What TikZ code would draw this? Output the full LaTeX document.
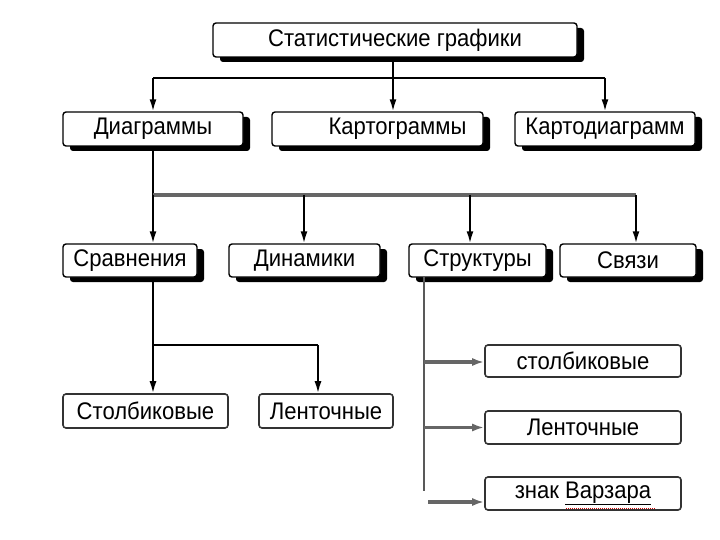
\documentclass[tikz,border=0pt]{standalone}
\usepackage{fontspec}
\setmainfont{Liberation Sans}[FakeStretch=0.92]
\usetikzlibrary{shadows,arrows.meta}
\begin{document}
\begin{tikzpicture}[x=1pt,y=-1pt,
  box/.style={draw=black,line width=1.4pt,fill=white,rounded corners=3pt,inner sep=0pt,
    font=\fontsize{24}{26}\selectfont},
  sbox/.style={box,general shadow={shadow xshift=7pt,shadow yshift=-5pt,fill=black}},
  pbox/.style={box,draw=black!80,line width=1.6pt},
  blk/.style={draw=black,line width=1.8pt},
  gry/.style={draw=black!60,line width=3.2pt},
  tip/.style={-{Latex[length=12pt,width=7pt]}},
  gtip/.style={-{Latex[length=12pt,width=8pt,fill=black]}}
]
\useasboundingbox (0,0) rectangle (720,540);
\fill[white] (0,0) rectangle (720,540);

% nodes
\node[sbox,minimum width=364pt,minimum height=34pt] (top) at (395,40) {Статистические графики};
\node[sbox,minimum width=180pt,minimum height=34pt] (diag) at (153,129) {Диаграммы};
\node[sbox,minimum width=211pt,minimum height=34pt,
  label={[font=\fontsize{24}{26}\selectfont,xshift=20pt]center:Картограммы}] (kart) at (377.5,129) {};
\node[sbox,minimum width=180pt,minimum height=34pt] (kd) at (605,129) {Картодиаграмм};

\node[sbox,minimum width=134pt,minimum height=33pt] (srav) at (130,260.5) {Сравнения};
\node[sbox,minimum width=151pt,minimum height=33pt] (din) at (304.5,260.5) {Динамики};
\node[sbox,minimum width=137pt,minimum height=33pt] (str) at (477.5,260.5) {Структуры};
\node[sbox,minimum width=136pt,minimum height=33pt] (sv) at (628,260.5) {Связи};

\node[pbox,minimum width=165pt,minimum height=34pt] (stl) at (145.5,411) {Столбиковые};
\node[pbox,minimum width=134pt,minimum height=34pt] (lnl) at (326,411) {Ленточные};

\node[pbox,minimum width=196pt,minimum height=32pt] (r1) at (583,361) {столбиковые};
\node[pbox,minimum width=196pt,minimum height=33pt] (r2) at (583,427.5) {Ленточные};
\node[pbox,minimum width=196pt,minimum height=33pt] (r3) at (583,493.5) {знак \underline{Варзара}};
\draw[red!80!black,densely dotted,line width=1pt] (566,508.5) -- (655,508.5);

% coordinates
\coordinate (h1) at (393,78);
\coordinate (h1l) at (153,78);
\coordinate (h1r) at (605,78);
\coordinate (h2l) at (153,195);
\coordinate (h2r) at (636,195);
\coordinate (h3l) at (153,345);
\coordinate (h3r) at (318,345);
\coordinate (vs) at (424,277);
\coordinate (ve) at (424,491);

% level 1
\draw[blk] (h1l) -- (h1r);
\draw[blk,tip] (top.south -| h1) -- (kart.north -| h1);
\draw[blk,tip] (h1l) -- (diag.north -| h1l);
\draw[blk,tip] (h1r) -- (kd.north -| h1r);

% level 2
\draw[blk] (diag.south -| h2l) -- (h2l);
\draw[gry] (h2l) -- (h2r);
\draw[blk,tip] (h2l) -- (srav.north -| h2l);
\draw[blk,tip] (304,195) -- (din.north -| 304,0);
\draw[blk,tip] (470,195) -- (str.north -| 470,0);
\draw[blk,tip] (h2r) -- (sv.north -| h2r);

% level 3 left
\draw[blk] (srav.south -| h3l) -- (h3l) -- (h3r);
\draw[blk,tip] (h3l) -- (stl.north -| h3l);
\draw[blk,tip] (h3r) -- (lnl.north -| h3r);

% level 3 right
\draw[draw=black!65,line width=2.4pt] (vs) -- (ve);
\draw[gry,gtip] (424,362) -- (r1.west |- 0,362);
\draw[gry,gtip] (424,427.5) -- (r2.west |- 0,427.5);
\draw[gry,gtip] (428,502) -- (r3.west |- 0,502);
\end{tikzpicture}
\end{document}
